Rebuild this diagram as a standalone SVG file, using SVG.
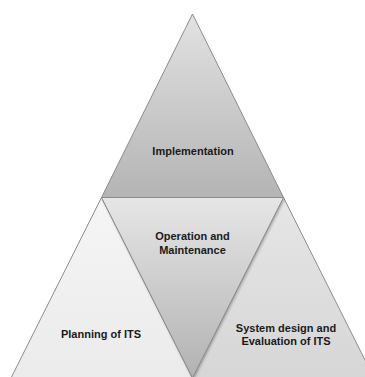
<svg xmlns="http://www.w3.org/2000/svg" width="365" height="377" viewBox="0 0 365 377">
  <style>
    .seg { stroke: #8c8c8c; stroke-width: 1; stroke-linejoin: miter; }
    .lbl { font-family: "Liberation Sans", Arial, sans-serif; font-weight: bold; font-size: 11px; fill: #1a1a1a; text-anchor: middle; }
  </style>
  <defs>
    <linearGradient id="gTop" x1="0" y1="0" x2="0" y2="1">
      <stop offset="0" stop-color="#e2e2e2"/>
      <stop offset="1" stop-color="#b4b4b4"/>
    </linearGradient>
    <linearGradient id="gMid" x1="0" y1="0" x2="0" y2="1">
      <stop offset="0" stop-color="#e6e6e6"/>
      <stop offset="1" stop-color="#b2b2b2"/>
    </linearGradient>
    <linearGradient id="gLeft" x1="0" y1="0" x2="0" y2="1">
      <stop offset="0" stop-color="#f5f5f5"/>
      <stop offset="1" stop-color="#ebebeb"/>
    </linearGradient>
    <linearGradient id="gRight" x1="0" y1="0" x2="0" y2="1">
      <stop offset="0" stop-color="#e6e6e6"/>
      <stop offset="1" stop-color="#d6d6d6"/>
    </linearGradient>
    <filter id="shade" x="-10%" y="-10%" width="120%" height="120%">
      <feDropShadow dx="1" dy="1.5" stdDeviation="1.2" flood-color="#000" flood-opacity="0.25"/>
    </filter>
  </defs>

  <!-- bottom-left segment -->
  <g id="planning">
    <polygon class="seg" points="101.5,197.5 11,378 192.5,378" fill="url(#gLeft)"/>
    <text class="lbl" x="101" y="338">Planning of ITS</text>
  </g>

  <!-- bottom-right segment -->
  <g id="system-design">
    <polygon class="seg" points="283.5,197.5 192.5,378 374,378" fill="url(#gRight)"/>
    <text class="lbl" x="286" y="332">System design and</text>
    <text class="lbl" x="286" y="345">Evaluation of ITS</text>
  </g>

  <!-- inverted middle segment -->
  <g id="operation">
    <polygon class="seg" points="101.5,197.5 283.5,197.5 192.5,378" fill="url(#gMid)" filter="url(#shade)"/>
    <text class="lbl" x="192.5" y="240">Operation and</text>
    <text class="lbl" x="192.5" y="254">Maintenance</text>
  </g>

  <!-- top segment -->
  <g id="implementation">
    <polygon class="seg" points="192.5,14 283.5,197.5 101.5,197.5" fill="url(#gTop)"/>
    <text class="lbl" x="193" y="155">Implementation</text>
  </g>

  <g id="connectors"/>
</svg>
